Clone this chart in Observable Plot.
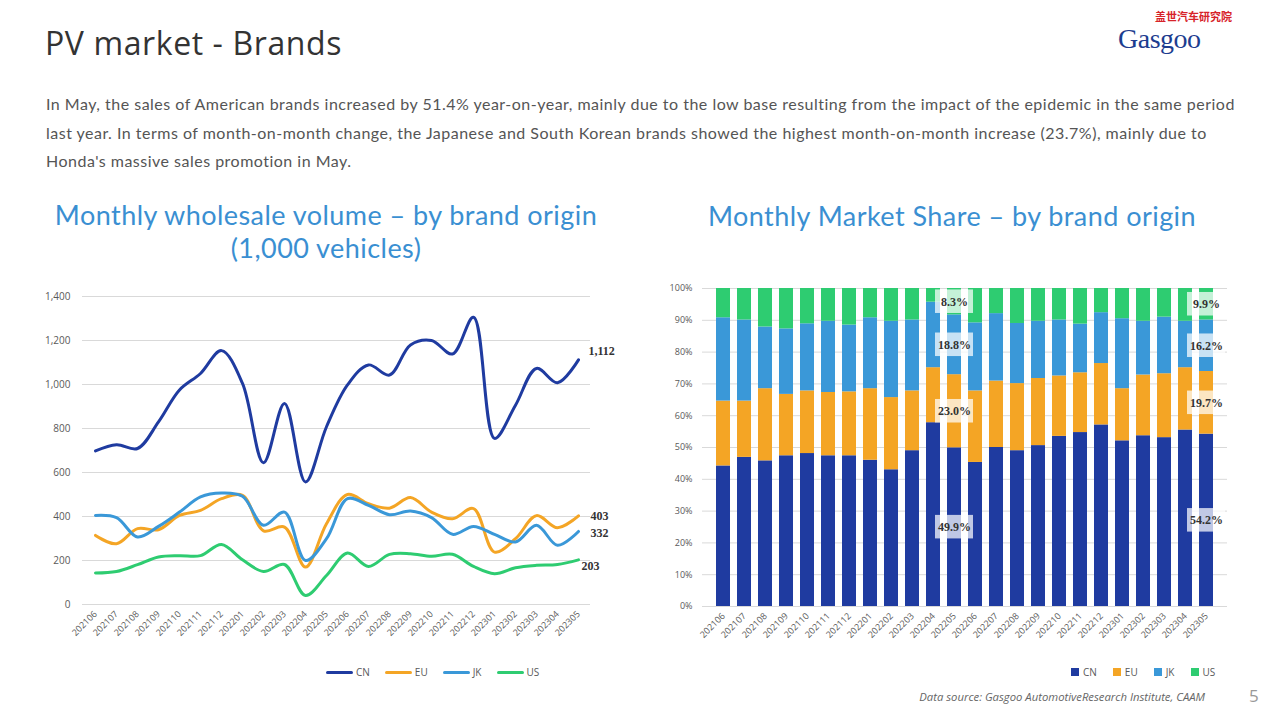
<!DOCTYPE html>
<html>
<head>
<meta charset="utf-8">
<script src="https://cdn.jsdelivr.net/npm/d3@7"></script>
<script src="https://cdn.jsdelivr.net/npm/@observablehq/plot@0.6"></script>
<style>
  html, body { margin: 0; padding: 0; background: #fff; }
  body { width: 1280px; height: 720px; position: relative; overflow: hidden; font-family: "Open Sans", sans-serif; }
  .abs { position: absolute; white-space: nowrap; }
  #title { left: 45px; top: 21px; font-size: 32px; letter-spacing: 0.6px; color: #333; font-family: "Open Sans"; font-weight: 400; }
  #para { left: 46px; top: 90px; font-size: 16px; letter-spacing: 0.49px; line-height: 28.5px; color: #555; font-family: "Lato"; font-weight: 400; }
  .ctitle { color: #3a8fd2; font-family: "Lato"; font-size: 27px; letter-spacing: 0.45px; text-align: center; line-height: 28px; height: 28px; }
  .legend { font-family: "Open Sans"; font-size: 10px; color: #595959; display: flex; align-items: center; }
  .legend .it { display: flex; align-items: center; margin-right: 15px; }
  .legend .ln { width: 27px; height: 3px; border-radius: 2px; margin-right: 3px; }
  .legend .sq { width: 8px; height: 8px; margin-right: 4px; }
  #src { right: 75px; top: 689px; font-size: 11.3px; font-style: italic; color: #666; font-family: "Open Sans"; }
  #page { left: 1249px; top: 684px; font-size: 17px; color: #999; font-family: "Open Sans"; }
  #logo1 { left: 1155px; top: 10px; font-size: 11px; line-height: 13px; color: #d7232a; font-weight: bold; font-family: "Noto Sans CJK SC"; }
  #logo2 { left: 1118px; top: 28px; font-size: 28px; line-height: 22px; color: #1d3d8f; font-family: "Liberation Serif"; letter-spacing: -0.5px; }
</style>
</head>
<body>
<div id="title" class="abs">PV market - Brands</div>
<div id="para" class="abs">In May, the sales of American brands increased by 51.4% year-on-year, mainly due to the low base resulting from the impact of the epidemic in the same period<br>last year. In terms of month-on-month change, the Japanese and South Korean brands showed the highest month-on-month increase (23.7%), mainly due to<br>Honda's massive sales promotion in May.</div>
<div class="abs ctitle" style="left:26px; top:201px; width:600px;">Monthly wholesale volume – by brand origin</div>
<div class="abs ctitle" style="left:26px; top:233.5px; width:600px;">(1,000 vehicles)</div>
<div class="abs ctitle" style="left:652px; top:202px; width:600px;">Monthly Market Share – by brand origin</div>
<div id="logo1" class="abs">盖世汽车研究院</div>
<div id="logo2" class="abs">Gasgoo</div>
<div id="left" class="abs" style="left:0px; top:280px;"></div>
<div id="right" class="abs" style="left:640px; top:280px;"></div>
<div id="legL" class="abs legend" style="left:326px; top:665px;"></div>
<div id="legR" class="abs legend" style="left:1071px; top:665px;"></div>
<div id="src" class="abs">Data source: Gasgoo AutomotiveResearch Institute, CAAM</div>
<div id="page" class="abs">5</div>
<script>
const months = ["202106","202107","202108","202109","202110","202111","202112","202201","202202","202203","202204","202205","202206","202207","202208","202209","202210","202211","202212","202301","202302","202303","202304","202305"];
const brands = ["CN","EU","JK","US"];
const colors = ["#1f3ba0","#f4a525","#3a98d8","#2ecc71"];

// Monthly wholesale volume (1,000 vehicles)
const volCN = [698,726,709,830,975,1050,1154,1005,644,914,557,808,998,1089,1043,1180,1200,1139,1306,755,906,1073,1008,1112];
const volEU = [314,276,345,340,405,428,481,496,335,352,170,367,500,458,438,486,420,390,436,238,299,404,349,403];
const volJK = [405,395,307,355,420,489,507,492,360,420,200,299,481,451,408,425,395,319,355,319,284,360,269,332];
const volUS = [143,150,181,216,222,222,273,203,150,182,41,132,234,173,228,231,219,228,173,140,167,178,182,203];

// Market share (%)
const shCN = [44.2,46.9,45.8,47.4,48.1,47.4,47.4,46.0,43.0,49.0,57.8,49.9,45.3,50.0,49.0,50.6,53.5,54.7,57.1,52.1,53.7,53.1,55.5,54.2];
const shEU = [20.4,17.7,22.7,19.3,19.7,19.9,20.1,22.5,22.7,18.8,17.3,23.0,22.5,20.9,21.1,21.1,19.0,18.8,19.3,16.4,19.1,20.1,19.6,19.7];
const shJK = [26.2,25.5,19.4,20.6,21.1,22.4,21.0,22.3,24.0,22.3,20.6,18.8,21.4,21.2,18.9,18.0,17.6,15.3,16.0,22.0,16.9,17.8,14.6,16.2];
const shUS = [9.2,9.9,12.1,12.7,11.1,10.3,11.5,9.2,10.3,9.9,4.3,8.3,10.8,7.9,11.0,10.3,9.9,11.2,7.6,9.5,10.3,9.0,10.3,9.9];
const labeledMonths = ["202205","202305"];

const vols = [volCN, volEU, volJK, volUS];
const shares = [shCN, shEU, shJK, shUS];
const volData = brands.flatMap((b, i) => months.map((m, j) => ({month: m, brand: b, value: vols[i][j]})));
const shareData = brands.flatMap((b, i) => months.map((m, j) => ({month: m, brand: b, share: shares[i][j]})));

// label boxes at segment centers
const shareLabels = [];
for (const m of labeledMonths) {
  const j = months.indexOf(m);
  let cum = 0;
  brands.forEach((b, i) => {
    const v = shares[i][j];
    shareLabels.push({month: m, brand: b, share: v, mid: cum + v / 2});
    cum += v;
  });
}

const font = "'Open Sans', sans-serif";
const gridColor = "#d9d9d9";
const last = months[months.length - 1];
const lastOf = b => volData.filter(d => d.brand === b && d.month === last);
const labelFont = "'Liberation Serif', serif";

const left = Plot.plot({
  width: 620, height: 380,
  marginLeft: 82, marginRight: 30, marginTop: 16, marginBottom: 56,
  style: {fontFamily: font, fontSize: "10px", color: "#595959", background: "transparent"},
  x: {type: "point", domain: months, padding: 0.5, label: null},
  y: {domain: [0, 1400], label: null},
  color: {domain: brands, range: colors},
  marks: [
    Plot.gridY(d3.range(0, 1401, 200), {stroke: gridColor, strokeOpacity: 1, strokeWidth: 1}),
    Plot.axisY(d3.range(0, 1401, 200), {tickSize: 0, tickPadding: 12, tickFormat: d3.format(","), fontSize: 10, fill: "#595959"}),
    Plot.axisX({tickSize: 0, tickPadding: 8, tickRotate: -45, fontSize: 9, fill: "#595959"}),
    Plot.line(volData, {x: "month", y: "value", stroke: "brand", z: "brand", curve: "catmull-rom", strokeWidth: 3}),
    Plot.text(lastOf("CN"), {x: "month", y: "value", text: d => d3.format(",")(d.value), dx: 10, dy: -9, textAnchor: "start", fontFamily: labelFont, fontWeight: "bold", fontSize: 12, fill: "#333"}),
    Plot.text(lastOf("EU"), {x: "month", y: "value", text: d => d3.format(",")(d.value), dx: 12, dy: 0, textAnchor: "start", fontFamily: labelFont, fontWeight: "bold", fontSize: 12, fill: "#333"}),
    Plot.text(lastOf("JK"), {x: "month", y: "value", text: d => d3.format(",")(d.value), dx: 12, dy: 2, textAnchor: "start", fontFamily: labelFont, fontWeight: "bold", fontSize: 12, fill: "#333"}),
    Plot.text(lastOf("US"), {x: "month", y: "value", text: d => d3.format(",")(d.value), dx: 3, dy: 6, textAnchor: "start", fontFamily: labelFont, fontWeight: "bold", fontSize: 12, fill: "#333"})
  ]
});
document.getElementById("left").appendChild(left);

const right = Plot.plot({
  width: 620, height: 380,
  marginLeft: 62, marginRight: 33, marginTop: 8, marginBottom: 54,
  style: {fontFamily: font, fontSize: "9px", color: "#595959", background: "transparent"},
  x: {type: "band", domain: months, paddingInner: 0.31, paddingOuter: 0.155, label: null},
  y: {domain: [0, 100], label: null},
  color: {domain: brands, range: colors},
  marks: [
    Plot.gridY(d3.range(0, 101, 10), {stroke: gridColor, strokeOpacity: 1, strokeWidth: 1}),
    Plot.axisY(d3.range(0, 101, 10), {tickSize: 0, tickPadding: 10, tickFormat: d => d + "%", fontSize: 9, fill: "#595959"}),
    Plot.axisX({tickSize: 0, tickPadding: 8, tickRotate: -45, fontSize: 9, fill: "#595959"}),
    Plot.barY(shareData, {x: "month", y: "share", fill: "brand", order: brands}),
    Plot.barY(shareLabels, {x: "month", y1: d => d.mid - 3.7, y2: d => d.mid + 3.7, fill: "white", fillOpacity: 0.72, insetLeft: -12, insetRight: -12}),
    Plot.text(shareLabels, {x: "month", y: "mid", text: d => d.share.toFixed(1) + "%", fontFamily: labelFont, fontWeight: "bold", fontSize: 12, fill: "#333"})
  ]
});
document.getElementById("right").appendChild(right);

const legL = document.getElementById("legL");
const legR = document.getElementById("legR");
brands.forEach((b, i) => {
  const a = document.createElement("div"); a.className = "it";
  a.innerHTML = `<span class="ln" style="background:${colors[i]}"></span><span>${b}</span>`;
  legL.appendChild(a);
  const c = document.createElement("div"); c.className = "it"; c.style.marginRight = "16px";
  c.innerHTML = `<span class="sq" style="background:${colors[i]}"></span><span>${b}</span>`;
  legR.appendChild(c);
});
</script>
</body>
</html>
